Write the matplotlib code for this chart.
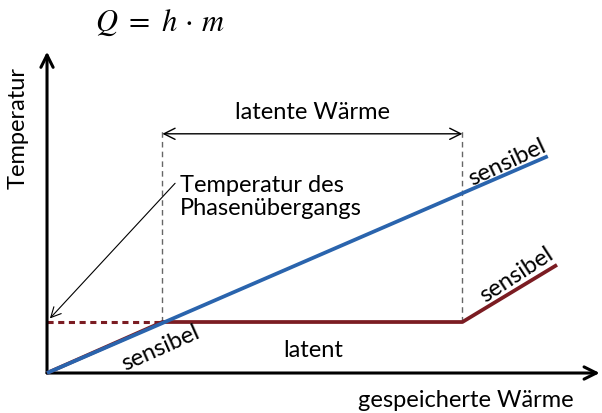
import matplotlib
matplotlib.use('Agg')
import matplotlib.pyplot as plt

# Wärme (x) und Temperatur (y) in beliebigen Einheiten
T_PHASE = 1.0          # Temperatur des Phasenübergangs
Q_START = 2.0          # Beginn latente Wärme
Q_END = 7.2            # Ende latente Wärme

# sensibler Speicher (blau): Gerade durch den Ursprung
blue_x = [0.0, 8.68]
blue_y = [0.0, 4.25]

# Speicher mit Phasenwechsel (rot)
red_x = [0.0, Q_START, Q_END, 8.84]
red_y = [0.0, T_PHASE, T_PHASE, 2.12]

X_MAX = 9.58
Y_MAX = 6.3

BLUE = '#2a64ad'
RED = '#7b1c22'
FONT = 'Lato'
FS = 17

fig = plt.figure(figsize=(6.02, 4.14), dpi=100)
ax = fig.add_axes([0, 0, 1, 1])
ax.set_xlim(-0.815, 9.62)
ax.set_ylim(-0.784, 7.333)
ax.axis('off')

# Achsen mit Pfeilen
ax.annotate('', xy=(X_MAX, 0), xytext=(0, 0),
            arrowprops=dict(arrowstyle='->', lw=2.2, color='black',
                            mutation_scale=22, shrinkA=0, shrinkB=0))
ax.annotate('', xy=(0, Y_MAX), xytext=(0, 0),
            arrowprops=dict(arrowstyle='->', lw=2.2, color='black',
                            mutation_scale=22, shrinkA=0, shrinkB=0))

# gestrichelte Hilfslinien
ax.plot([0, Q_START], [T_PHASE, T_PHASE], color=RED, lw=2.2, ls=(0, (2, 1.5)))
for q in (Q_START, Q_END):
    ax.plot([q, q], [T_PHASE, 4.8], color='#666666', lw=1.0, ls=(0, (4, 3)))

# Kurven
ax.plot(red_x, red_y, color=RED, lw=2.7, solid_capstyle='butt', zorder=3)
ax.plot(blue_x, blue_y, color=BLUE, lw=2.7, solid_capstyle='butt', zorder=4)

# latente Wärme
ax.annotate('', xy=(Q_START, 4.69), xytext=(Q_END, 4.69),
            arrowprops=dict(arrowstyle='<->', lw=1.0, color='black',
                            mutation_scale=20, shrinkA=0, shrinkB=0))
ax.text((Q_START + Q_END) / 2, 5.12, 'latente Wärme', family=FONT,
        fontsize=FS, ha='center', va='center')

# Temperatur des Phasenübergangs
ax.text(2.3, 3.47, 'Temperatur des\nPhasenübergangs', family=FONT,
        fontsize=FS, ha='left', va='center', linespacing=1.1)
ax.annotate('', xy=(0.05, T_PHASE + 0.07), xytext=(2.22, 3.72),
            arrowprops=dict(arrowstyle='->', lw=0.8, color='black',
                            mutation_scale=18, shrinkA=0, shrinkB=0))

# Beschriftungen der Abschnitte
ax.text(1.97, 0.5, 'sensibel', family=FONT, fontsize=FS,
        rotation=24, ha='center', va='center')
ax.text(7.97, 4.14, 'sensibel', family=FONT, fontsize=FS,
        rotation=25, ha='center', va='center')
ax.text(8.13, 1.94, 'sensibel', family=FONT, fontsize=FS,
        rotation=33, ha='center', va='center')
ax.text(4.61, 0.47, 'latent', family=FONT, fontsize=FS,
        ha='center', va='center')

# Achsenbeschriftungen
ax.text(-0.5, 4.82, 'Temperatur', family=FONT, fontsize=FS,
        rotation=90, ha='center', va='center')
ax.text(7.26, -0.51, 'gespeicherte Wärme', family=FONT, fontsize=FS,
        ha='center', va='center')

# Formel
plt.rcParams['mathtext.fontset'] = 'stix'
fig.text(0.265, 0.945, r'$Q\ =\ h\,\cdot\,m$', fontsize=22,
         ha='center', va='center')

fig.savefig('out.png', dpi=100)
